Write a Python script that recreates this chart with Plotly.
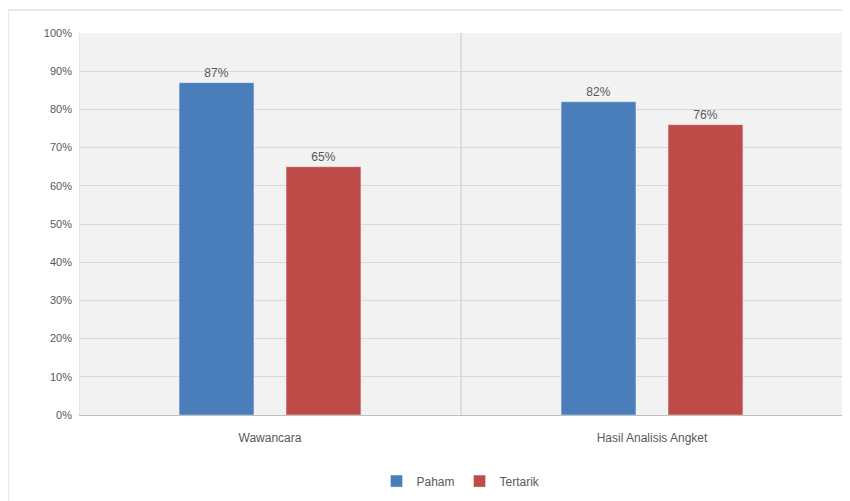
import plotly.graph_objects as go

categories = ["Wawancara", "Hasil Analisis Angket"]
paham = [0.87, 0.82]
tertarik = [0.65, 0.76]
tick_vals = [0, 0.1, 0.2, 0.3, 0.4, 0.5, 0.6, 0.7, 0.8, 0.9, 1.0]
tick_text = ["0%", "10%", "20%", "30%", "40%", "50%", "60%", "70%", "80%", "90%", "100%"]

font_color = "#595959"
fig = go.Figure()
fig.add_trace(go.Bar(name="Paham", x=categories, y=paham, marker_color="#4a7ebb",
                     text=[f"{v:.0%}" for v in paham], textposition="outside",
                     textfont=dict(color=font_color, size=12), cliponaxis=False))
fig.add_trace(go.Bar(name="Tertarik", x=categories, y=tertarik, marker_color="#be4b48",
                     text=[f"{v:.0%}" for v in tertarik], textposition="outside",
                     textfont=dict(color=font_color, size=12), cliponaxis=False))

fig.update_layout(
    width=842, height=493,
    margin=dict(l=71, r=7, t=25, b=85),
    paper_bgcolor="white", plot_bgcolor="#f2f2f2",
    font=dict(family="Liberation Sans", size=12, color=font_color),
    barmode="group", bargap=0.44, bargroupgap=0.3,
    legend=dict(orientation="h", x=0.5, xanchor="center", y=-0.17, yanchor="middle",
                font=dict(size=12, color=font_color), traceorder="normal",
                itemwidth=30),
    xaxis=dict(range=[-0.5, 1.5], showgrid=False, showline=True, linecolor="#bfbfbf",
               ticks="", tickfont=dict(size=12, color=font_color), ticklabelstandoff=12),
    yaxis=dict(range=[0, 1.0], tickvals=tick_vals, ticktext=tick_text, showgrid=True,
               gridcolor="#d9d9d9", zeroline=False, showline=False, ticks="",
               tickfont=dict(size=11, color=font_color), ticklabelstandoff=6),
    shapes=[
        dict(type="line", xref="x", yref="paper", x0=0.5, x1=0.5, y0=0, y1=1,
             line=dict(color="#c8c8c8", width=1), layer="below"),
        dict(type="line", xref="x", yref="paper", x0=-0.5, x1=-0.5, y0=0, y1=1,
             line=dict(color="#d9d9d9", width=1), layer="below"),
        dict(type="rect", xref="paper", yref="paper", x0=-0.093, x1=1.05, y0=-0.25, y1=1.06,
             line=dict(color="#d0d0d0", width=1), layer="below"),
    ],
)
fig.write_html("out.html")
